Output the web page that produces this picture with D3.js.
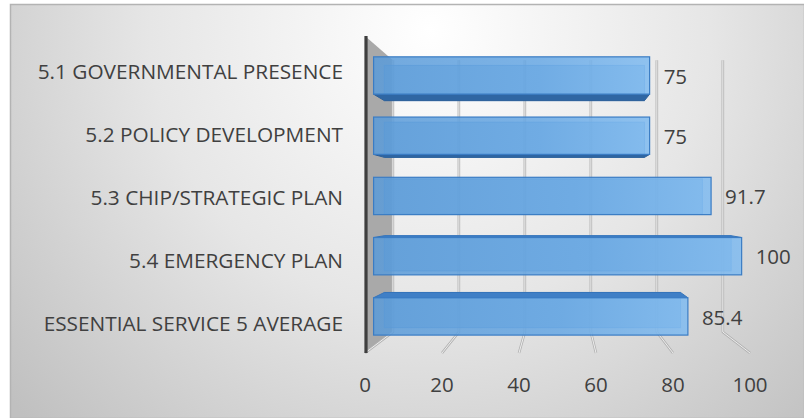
<!DOCTYPE html>
<html>
<head>
<meta charset="utf-8">
<script src="https://cdn.jsdelivr.net/npm/d3@7"></script>
<style>
  html, body { margin: 0; padding: 0; background: #ffffff; }
  svg { display: block; }
</style>
</head>
<body>
<svg id="chart" width="804" height="418"></svg>
<script>
// ---- data ----
const categories = [
  "5.1 GOVERNMENTAL PRESENCE",
  "5.2 POLICY DEVELOPMENT",
  "5.3 CHIP/STRATEGIC PLAN",
  "5.4 EMERGENCY PLAN",
  "ESSENTIAL SERVICE 5 AVERAGE"
];
const values = [75, 75, 91.7, 100, 85.4];
const valueLabels = ["75", "75", "91.7", "100", "85.4"];
const tickValues = [0, 20, 40, 60, 80, 100];
const tickLabels = ["0", "20", "40", "60", "80", "100"];

// ---- layout / perspective ----
const W = 804, H = 418;
const FONT = "'Open Sans', sans-serif";
const svg = d3.select("#chart");
const defs = svg.append("defs");

const vp = { x: 560, y: 206 };          // vanishing point
const S_FRONT = 1, S_BAR_F = 0.956, S_BAR_B = 0.901, S_BACK = 0.857;
const yTop = 36, yBottom = 353;          // front-plane vertical extent

const x = d3.scaleLinear().domain([0, 100]).range([365, 750]);
const y = d3.scaleBand().domain(categories).range([38, 353])
  .paddingInner(0.38).paddingOuter(0.19);

function P(v, Y, s) {
  return [vp.x + s * (x(v) - vp.x), vp.y + s * (Y - vp.y)];
}

// ---- background ----
const bg = defs.append("radialGradient").attr("id", "bgGrad")
  .attr("gradientUnits", "userSpaceOnUse")
  .attr("cx", 430).attr("cy", 30).attr("r", 560);
bg.append("stop").attr("offset", "0").attr("stop-color", "#ffffff");
bg.append("stop").attr("offset", "0.5").attr("stop-color", "#e6e6e6");
bg.append("stop").attr("offset", "1").attr("stop-color", "#c0c0c0");

svg.append("rect").attr("x", 10.5).attr("y", 4.5)
  .attr("width", W - 10).attr("height", H - 4)
  .attr("fill", "url(#bgGrad)").attr("stroke", "#b3b3b3").attr("stroke-width", 1.5);

// ---- left side wall ----
const wallPts = [P(0, yTop, S_FRONT), P(0, yTop, S_BACK), P(0, yBottom, S_BACK), P(0, yBottom, S_FRONT)];
svg.append("polygon").attr("points", wallPts.map(p => p.join(",")).join(" "))
  .attr("fill", "#a9a9a9");

// ---- gridlines (back wall + floor) ----
const gridG = svg.append("g");
tickValues.forEach(v => {
  const a = P(v, yTop, S_BACK), b = P(v, yBottom, S_BACK), c = P(v, yBottom, S_FRONT);
  const d = `M${a[0]},${a[1]}L${b[0]},${b[1]}L${c[0]},${c[1]}`;
  gridG.append("path").attr("d", d).attr("fill", "none")
    .attr("stroke", "#b2b2b2").attr("stroke-width", 2.6).attr("stroke-linejoin", "round");
  gridG.append("path").attr("d", d).attr("fill", "none")
    .attr("stroke", "#f4f4f4").attr("stroke-width", 0.9);
});

// wall front dark edge
const wf1 = P(0, yTop, S_FRONT), wf2 = P(0, yBottom, S_FRONT);
svg.append("line").attr("x1", wf1[0] + 1).attr("y1", wf1[1]).attr("x2", wf2[0] + 1).attr("y2", wf2[1])
  .attr("stroke", "#3f3f3f").attr("stroke-width", 3.2);

// ---- bars ----
const fg = defs.append("linearGradient").attr("id", "barGrad")
  .attr("x1", "0").attr("y1", "0").attr("x2", "1").attr("y2", "0");
fg.append("stop").attr("offset", "0").attr("stop-color", "#5b9bd8");
fg.append("stop").attr("offset", "0.6").attr("stop-color", "#68a8e4");
fg.append("stop").attr("offset", "1").attr("stop-color", "#80bbf0");

const barsG = svg.append("g");
categories.forEach((cat, i) => {
  const v = values[i];
  const Y0 = y(cat), Y1 = y(cat) + y.bandwidth();
  const f00 = P(0, Y0, S_BAR_F), f11 = P(v, Y1, S_BAR_F);
  const b00 = P(0, Y0, S_BAR_B), b10 = P(v, Y0, S_BAR_B), b01 = P(0, Y1, S_BAR_B), b11 = P(v, Y1, S_BAR_B);
  const f10 = P(v, Y0, S_BAR_F), f01 = P(0, Y1, S_BAR_F);
  const g = barsG.append("g");
  g.append("rect").attr("x", b00[0]).attr("y", b00[1])
    .attr("width", b11[0] - b00[0]).attr("height", b11[1] - b00[1])
    .attr("fill", "#5b9bd5").attr("fill-opacity", 0.55)
    .attr("stroke", "#4a8ad0").attr("stroke-opacity", 0.7).attr("stroke-width", 1);
  if (Y0 > vp.y - 5) {
    const pts = [f00, f10, b10, b00];
    g.append("polygon").attr("points", pts.map(p => p.join(",")).join(" "))
      .attr("fill", "#3f7fc6").attr("stroke", "#3574ba").attr("stroke-width", 1);
  }
  if (Y1 < vp.y + 5) {
    const pts = [f01, f11, b11, b01];
    g.append("polygon").attr("points", pts.map(p => p.join(",")).join(" "))
      .attr("fill", "#2f66a3").attr("stroke", "#2c5f98").attr("stroke-width", 1);
  }
  g.append("rect").attr("x", f00[0]).attr("y", f00[1])
    .attr("width", f11[0] - f00[0]).attr("height", f11[1] - f00[1])
    .attr("fill", "url(#barGrad)").attr("fill-opacity", 0.86)
    .attr("stroke", "#3a7cc4").attr("stroke-width", 1.2);
  svg.append("text")
    .attr("x", f11[0] + 14).attr("y", (f00[1] + f11[1]) / 2 + 1)
    .attr("dy", "0.35em")
    .attr("font-family", FONT).attr("font-size", 20.5)
    .attr("fill", "#404040")
    .text(valueLabels[i]);
});

// ---- category labels ----
categories.forEach((cat, i) => {
  svg.append("text")
    .attr("x", 343).attr("y", y(cat) + y.bandwidth() / 2 + 2)
    .attr("dy", "0.35em").attr("text-anchor", "end")
    .attr("font-family", FONT).attr("font-size", 20.8)
    .attr("fill", "#404040")
    .text(cat);
});

// ---- x tick labels ----
tickValues.forEach((v, i) => {
  const p = P(v, yBottom, S_FRONT);
  svg.append("text")
    .attr("x", p[0]).attr("y", 385).attr("dy", "0.35em")
    .attr("text-anchor", "middle")
    .attr("font-family", FONT).attr("font-size", 20.5)
    .attr("fill", "#404040")
    .text(tickLabels[i]);
});
</script>
</body>
</html>
